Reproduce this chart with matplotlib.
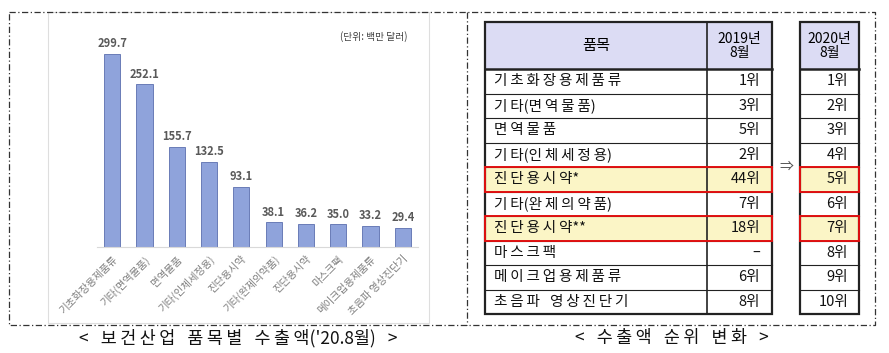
import matplotlib
matplotlib.use('Agg')
import matplotlib.pyplot as plt
from matplotlib.patches import Rectangle

plt.rcParams['font.family'] = ['Noto Sans CJK KR', 'DejaVu Sans']

# 막대 그래프 데이터
products = ['기초화장용제품류', '기타(면역물품)', '면역물품', '기타(인체세정용)', '진단용시약',
            '기타(완제의약품)', '진단용시약', '마스크팩', '메이크업용제품류', '초음파 영상진단기']
export_values = [299.7, 252.1, 155.7, 132.5, 93.1, 38.1, 36.2, 35.0, 33.2, 29.4]

# 순위 표 데이터
table_items = ['기초화장용제품류', '기타(면역물품)', '면역물품', '기타(인체세정용)', '진단용시약*',
               '기타(완제의약품)', '진단용시약**', '마스크팩', '메이크업용제품류', '초음파 영상진단기']
rank_2019 = ['1위', '3위', '5위', '2위', '44위', '7위', '18위', '–', '6위', '8위']
rank_2020 = ['1위', '2위', '3위', '4위', '5위', '6위', '7위', '8위', '9위', '10위']
highlight_rows = [4, 6]

W, H = 889, 353
fig = plt.figure(figsize=(W / 100, H / 100), dpi=100)


def px_axes(x0, y0, x1, y1):
    """픽셀 좌표(좌상단 기준)로 axes 생성"""
    return fig.add_axes([x0 / W, 1 - y1 / H, (x1 - x0) / W, (y1 - y0) / H])


def is_hangul(c):
    return '\uac00' <= c <= '\ud7a3'


def spaced(s):
    """한글 사이 자간 넓히기 (thin space 삽입), 띄어쓰기는 en space 로"""
    out = s[0]
    for a, b in zip(s, s[1:]):
        if is_hangul(a) and is_hangul(b):
            out += '\u2009'
        out += '\u2002\u2009' if b == ' ' else b
    return out


# ---- 왼쪽: 막대 그래프 ----
ax = px_axes(97, 20, 418, 247)
xs = list(range(len(products)))
ax.bar(xs, export_values, width=0.5, color='#8fa3db', edgecolor='#5b6fae', linewidth=0.6, zorder=2)
for x, v in zip(xs, export_values):
    ax.text(x, v + 6, '%.1f' % v, ha='center', va='bottom', fontsize=8,
            color='#595959', fontweight='bold')
ax.set_xlim(-0.47, 9.47)
ax.set_ylim(0, 352)
ax.set_xticks(xs)
ax.set_xticklabels(products, rotation=45, ha='right', rotation_mode='anchor',
                   fontsize=7.5, color='#7f7f7f')
ax.tick_params(axis='x', length=0, pad=5)
ax.set_yticks([])
for s in ['top', 'right', 'left']:
    ax.spines[s].set_visible(False)
ax.spines['bottom'].set_color('#d9d9d9')
ax.patch.set_alpha(0)

# ---- 오버레이 (테두리, 표, 캡션) ----
ov = fig.add_axes([0, 0, 1, 1], zorder=5)
ov.set_xlim(0, W)
ov.set_ylim(H, 0)
ov.axis('off')
ov.patch.set_alpha(0)

# 차트 이미지 테두리
ov.add_patch(Rectangle((48, 12), 381, 311, fill=False, ec='#dedede', lw=0.8))
ov.text(374, 37, '(단위: 백만 달러)', ha='center', va='center', fontsize=7, color='#404040')

# 점선 외곽
dash = dict(color='#333333', lw=0.9, linestyle=(0, (5, 2, 1, 2)))
ov.plot([9, 875, 875, 9, 9], [12, 12, 325, 325, 12], **dash)
ov.plot([467, 467], [12, 325], **dash)

# 캡션
ov.text(238, 338, spaced("< 보건산업 품목별 수출액('20.8월) >"), ha='center', va='center',
        fontsize=12.5, color='#111111')
ov.text(672, 338, spaced('< 수출액 순위 변화 >'), ha='center', va='center',
        fontsize=12.5, color='#111111')

# ---- 오른쪽: 순위 표 ----
tx0, tx1, tcol = 485, 772, 707
sx0, sx1 = 800, 859
top, head_bot = 22, 69
row_h = (314 - head_bot) / len(table_items)
bottom = head_bot + row_h * len(table_items)

head_fill = '#dcdcf4'
hl_fill = '#fbf5c6'
ov.add_patch(Rectangle((tx0, top), tx1 - tx0, head_bot - top, fc=head_fill, ec='none'))
ov.add_patch(Rectangle((sx0, top), sx1 - sx0, head_bot - top, fc=head_fill, ec='none'))
for r in highlight_rows:
    y = head_bot + r * row_h
    ov.add_patch(Rectangle((tx0, y), tx1 - tx0, row_h, fc=hl_fill, ec='none'))
    ov.add_patch(Rectangle((sx0, y), sx1 - sx0, row_h, fc=hl_fill, ec='none'))

# 행 구분선
for i in range(1, len(table_items)):
    y = head_bot + i * row_h
    ov.plot([tx0, tx1], [y, y], color='#222222', lw=0.8)
    ov.plot([sx0, sx1], [y, y], color='#222222', lw=0.8)
ov.plot([tx0, tx1], [head_bot, head_bot], color='#222222', lw=1.8)
ov.plot([sx0, sx1], [head_bot, head_bot], color='#222222', lw=1.8)
ov.plot([tcol, tcol], [top, bottom], color='#222222', lw=1.2)
ov.add_patch(Rectangle((tx0, top), tx1 - tx0, bottom - top, fill=False, ec='#222222', lw=1.6))
ov.add_patch(Rectangle((sx0, top), sx1 - sx0, bottom - top, fill=False, ec='#222222', lw=1.6))

# 빨간 강조 테두리
for r in highlight_rows:
    y = head_bot + r * row_h
    ov.add_patch(Rectangle((tx0, y), tx1 - tx0, row_h, fill=False, ec='#e01010', lw=1.4, zorder=6))
    ov.add_patch(Rectangle((sx0, y), sx1 - sx0, row_h, fill=False, ec='#e01010', lw=1.4, zorder=6))

# 헤더
ov.text((tx0 + tcol) / 2, (top + head_bot) / 2, '품목', ha='center', va='center', fontsize=11)
ov.text((tcol + tx1) / 2, (top + head_bot) / 2, '2019년\n8월', ha='center', va='center',
        fontsize=10, linespacing=1.0)
ov.text((sx0 + sx1) / 2, (top + head_bot) / 2, '2020년\n8월', ha='center', va='center',
        fontsize=10, linespacing=1.0)

# 본문
for i, (item, r19, r20) in enumerate(zip(table_items, rank_2019, rank_2020)):
    yc = head_bot + (i + 0.5) * row_h
    ov.text(494, yc, spaced(item), ha='left', va='center', fontsize=10.5, color='#111111')
    ov.text(760, yc, r19, ha='right', va='center', fontsize=10.5, color='#111111')
    ov.text(848, yc, r20, ha='right', va='center', fontsize=10.5, color='#111111')

ov.text(786, head_bot + 4 * row_h, '⇒', ha='center', va='center', fontsize=10, color='#555555')

fig.savefig('out.png', dpi=100)
